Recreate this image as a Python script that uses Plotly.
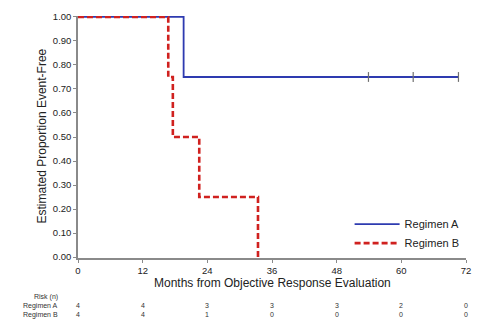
import plotly.graph_objects as go

# Kaplan-Meier step data (months, proportion)
a_times = [0, 19.6, 19.6, 70.6]
a_surv = [1.0, 1.0, 0.75, 0.75]
a_censor_times = [53.9, 62.2, 70.6]
a_censor_surv = [0.75, 0.75, 0.75]

b_times = [0, 16.75, 16.75, 17.6, 17.6, 22.5, 22.5, 33.4, 33.4]
b_surv = [1.0, 1.0, 0.75, 0.75, 0.5, 0.5, 0.25, 0.25, 0.0]

risk_times = [0, 12, 24, 36, 48, 60, 72]
risk_a = [4, 4, 3, 3, 3, 2, 0]
risk_b = [4, 4, 1, 0, 0, 0, 0]

x_ticks = [0, 12, 24, 36, 48, 60, 72]
y_ticks = [0.0, 0.1, 0.2, 0.3, 0.4, 0.5, 0.6, 0.7, 0.8, 0.9, 1.0]

blue = "#2e3bb0"
red = "#d0211f"
axis_grey = "#8a8a8a"
font = "Liberation Sans, Arial, sans-serif"

fig = go.Figure()
fig.add_trace(go.Scatter(x=a_times, y=a_surv, mode="lines", name="Regimen A",
                         line=dict(color=blue, width=1.8)))
fig.add_trace(go.Scatter(x=b_times, y=b_surv, mode="lines", name="Regimen B",
                         line=dict(color=red, width=2.6, dash="6px,3px")))
fig.add_trace(go.Scatter(x=a_censor_times, y=a_censor_surv, mode="markers", showlegend=False,
                         marker=dict(symbol="line-ns-open", size=7, color="#707070",
                                     line=dict(color="#707070", width=1.2))))

axis_common = dict(showgrid=False, zeroline=False, showline=True, linecolor=axis_grey,
                   linewidth=1.5, ticks="outside", ticklen=3, tickcolor=axis_grey,
                   tickwidth=1.2, tickfont=dict(family=font, size=9.5, color="#222"))

fig.update_xaxes(range=[0, 72], tickvals=x_ticks, ticktext=[str(t) for t in x_ticks], **axis_common)
fig.update_yaxes(range=[-0.004, 1.004], tickvals=y_ticks,
                 ticktext=[f"{v:.2f}" for v in y_ticks], **axis_common)

ann = []
ann.append(dict(text="Months from Objective Response Evaluation", xref="paper", yref="paper",
                x=0.5, y=-0.104, showarrow=False, xanchor="center", yanchor="middle",
                font=dict(family=font, size=12, color="#222")))
ann.append(dict(text="Estimated Proportion Event-Free", xref="paper", yref="paper",
                x=-0.0936, y=0.505, showarrow=False, textangle=-90, xanchor="center",
                yanchor="middle", font=dict(family=font, size=12, color="#222")))
row_y = [-0.1607, -0.197, -0.2336]
for txt, yy in zip(["Risk (n)", "Regimen A", "Regimen B"], row_y):
    ann.append(dict(text=txt, xref="paper", yref="paper", x=(60 - 78) / 388, y=yy,
                    showarrow=False, xanchor="right", yanchor="middle",
                    font=dict(family=font, size=7, color="#333")))
for t, ra, rb in zip(risk_times, risk_a, risk_b):
    ann.append(dict(text=str(ra), xref="x", yref="paper", x=t, y=row_y[1], showarrow=False,
                    xanchor="center", yanchor="middle", font=dict(family=font, size=7, color="#333")))
    ann.append(dict(text=str(rb), xref="x", yref="paper", x=t, y=row_y[2], showarrow=False,
                    xanchor="center", yanchor="middle", font=dict(family=font, size=7, color="#333")))

fig.update_layout(
    width=500, height=332,
    margin=dict(l=78, r=34, t=11, b=74),
    paper_bgcolor="white", plot_bgcolor="white",
    showlegend=True,
    legend=dict(x=0.70, y=0.20, xanchor="left", yanchor="top", bgcolor="rgba(0,0,0,0)",
                font=dict(family=font, size=11, color="#222"), tracegroupgap=0, itemwidth=45),
    annotations=ann,
)

fig.write_html("out.html")
